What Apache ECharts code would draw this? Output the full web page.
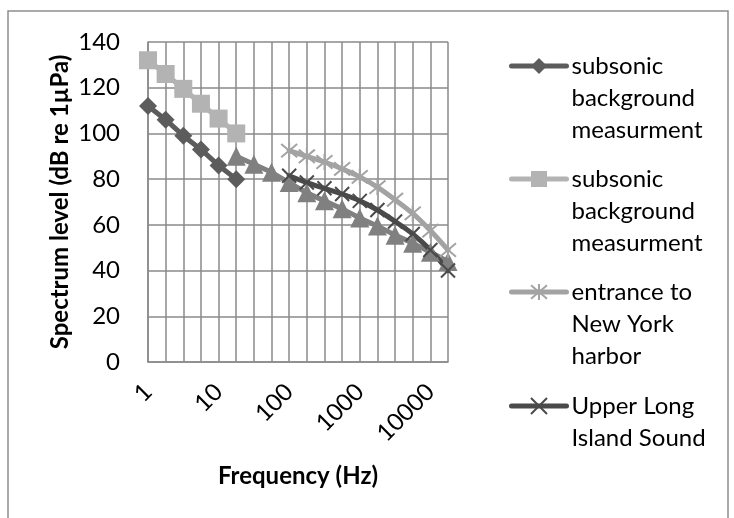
<!DOCTYPE html>
<html>
<head>
<meta charset="utf-8">
<script src="https://cdn.jsdelivr.net/npm/echarts@6/dist/echarts.min.js"></script>
<style>
  html, body { margin: 0; padding: 0; background: #ffffff; }
  #chart { width: 734px; height: 518px; }
</style>
</head>
<body>
<div id="chart"></div>
<script>
// Frequency bins, quarter-decade steps (Hz)
const freqLabels = ['1', '1.8', '3.2', '5.6', '10', '18', '32', '56', '100', '180',
                    '320', '560', '1000', '1800', '3200', '5600', '10000', '18000'];

// Spectrum levels in dB re 1 µPa (null where a series has no reading)
const subsonicA = [112, 106, 99, 93, 86, 80, null, null, null, null, null, null, null, null, null, null, null, null];
const subsonicB = [132, 126, 119.5, 113, 106.5, 100, null, null, null, null, null, null, null, null, null, null, null, null];
const spectrumTri = [null, null, null, null, null, 90, 86.5, 83, 78.5, 74, 70.5, 67, 63, 59.5, 55.5, 52, 48, 44];
const harborLevels = [null, null, null, null, null, null, null, null, 92.5, 90, 87.5, 84.5, 81, 76.5, 71, 65, 57.5, 49];
const soundLevels = [null, null, null, null, null, null, null, null, 81.5, 78.5, 76, 73.5, 70.5, 66.5, 61.5, 56, 49, 40];

// Legend captions
const legendText = {
  subsonicA: 'subsonic\nbackground\nmeasurment',
  subsonicB: 'subsonic\nbackground\nmeasurment',
  harbor: 'entrance to\nNew York\nharbor',
  sound: 'Upper Long\nIsland Sound'
};
const legendOrder = ['subsonicA', 'subsonicB', 'harbor', 'sound'];
const legendRowY = [66, 179, 292, 406];

const FONT = 'Lato, "Liberation Sans", sans-serif';
const GRID_COLOR = '#8a8a8a';
const LINE_H = 32;

const asteriskPath = 'path://M0,0L10,10M10,0L0,10M5,-1L5,11';
const crossPath = 'path://M0,0L10,10M10,0L0,10';

function lineSeries(name, data, color, symbol, size, extra) {
  return Object.assign({
    name: name,
    type: 'line',
    data: data,
    symbol: symbol,
    symbolSize: size,
    showSymbol: true,
    showAllSymbol: true,
    connectNulls: false,
    lineStyle: { color: color, width: 5, cap: 'round', join: 'round' },
    itemStyle: { color: color, borderColor: color, borderWidth: 0 },
    emphasis: { disabled: true },
    animation: false
  }, extra || {});
}

const series = [
  lineSeries('subsonicA', subsonicA, '#5c5c5c', 'diamond', 18),
  lineSeries('subsonicB', subsonicB, '#b3b3b3', 'rect', 18),
  lineSeries('spectrumTri', spectrumTri, '#808080', 'triangle', 19),
  lineSeries('harbor', harborLevels, '#a3a3a3', asteriskPath, 16,
    { itemStyle: { color: '#a3a3a3', borderColor: '#a3a3a3', borderWidth: 2 }, smooth: 0.3 }),
  lineSeries('sound', soundLevels, '#4a4a4a', crossPath, 14,
    { itemStyle: { color: '#4a4a4a', borderColor: '#4a4a4a', borderWidth: 2 }, smooth: 0.3 })
];

// One legend block per entry; leading empty lines keep the marker beside the first text line
const legends = legendOrder.map(function (key, i) {
  const lines = legendText[key].split('\n').length;
  const lead = new Array(lines).join('\n');
  return {
    data: [key],
    left: 509,
    top: legendRowY[i] - (2 * lines - 1) * LINE_H / 2,
    padding: 0,
    itemWidth: 55,
    itemHeight: 20,
    selectedMode: false,
    formatter: function () { return lead + legendText[key]; },
    textStyle: {
      fontFamily: FONT,
      fontSize: 24,
      color: '#000',
      lineHeight: LINE_H
    },
    lineStyle: { width: 5, cap: 'round' }
  };
});

const chart = echarts.init(document.getElementById('chart'), null, { renderer: 'canvas' });
chart.setOption({
  animation: false,
  backgroundColor: '#ffffff',
  graphic: [{
    type: 'rect',
    shape: { x: 8, y: 11, width: 720, height: 530 },
    style: { fill: 'none', stroke: '#8f8f8f', lineWidth: 1.5 },
    silent: true,
    z: -10
  }],
  legend: legends,
  grid: {
    left: 148, top: 42, width: 300, height: 320,
    containLabel: false,
    outerBoundsMode: 'none'
  },
  xAxis: {
    type: 'category',
    data: freqLabels,
    boundaryGap: false,
    axisLine: { show: true, lineStyle: { color: GRID_COLOR, width: 1.5 } },
    axisTick: { show: false },
    splitLine: { show: true, interval: 0, lineStyle: { color: GRID_COLOR, width: 1.5 } },
    axisLabel: {
      interval: 3,
      rotate: 45,
      margin: 26,
      fontFamily: FONT,
      fontSize: 24,
      color: '#000'
    },
    name: 'Frequency (Hz)',
    nameLocation: 'middle',
    nameGap: 102,
    nameTextStyle: { fontFamily: FONT, fontSize: 24, fontWeight: 'bold', color: '#000' }
  },
  yAxis: {
    type: 'value',
    min: 0,
    max: 140,
    interval: 20,
    axisLine: { show: true, lineStyle: { color: GRID_COLOR, width: 1.5 } },
    axisTick: { show: false },
    splitLine: { show: true, lineStyle: { color: GRID_COLOR, width: 1.5 } },
    axisLabel: { margin: 28, fontFamily: FONT, fontSize: 24, color: '#000' },
    name: 'Spectrum level (dB re 1µPa)',
    nameLocation: 'middle',
    nameGap: 76,
    nameTextStyle: { fontFamily: FONT, fontSize: 24, fontWeight: 'bold', color: '#000' }
  },
  series: series
});
</script>
</body>
</html>
